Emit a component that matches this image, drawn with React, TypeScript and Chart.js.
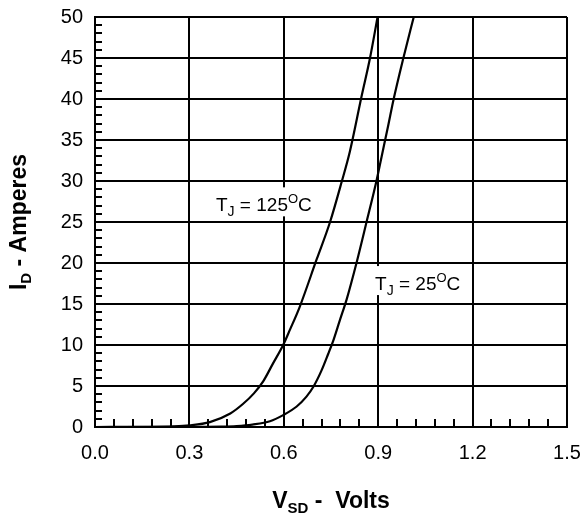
import React, { useEffect, useRef } from "react";
import { Chart, registerables } from "chart.js";

Chart.register(...registerables);

// ---- data (V_SD in volts, I_D in amperes) ----
const vd125 = [0, 0.15, 0.25, 0.3, 0.365, 0.43, 0.47, 0.505, 0.535, 0.565, 0.598, 0.62, 0.65, 0.704, 0.747, 0.784, 0.81, 0.847, 0.874, 0.898];
const id125 = [0, 0.02, 0.08, 0.2, 0.6, 1.65, 2.8, 4.1, 5.6, 7.7, 10, 11.9, 14.6, 20.4, 25, 29.9, 33.6, 40.3, 45, 50];
const vd25 = [0, 0.3, 0.4, 0.45, 0.5, 0.556, 0.598, 0.641, 0.672, 0.694, 0.72, 0.741, 0.757, 0.778, 0.8, 0.831, 0.863, 0.895, 0.911, 0.932, 0.948, 0.98, 1.013];
const id25 = [0, 0.01, 0.05, 0.12, 0.3, 0.7, 1.45, 2.5, 3.7, 4.9, 6.9, 8.9, 10.5, 13, 15.6, 20, 25, 30.1, 33, 36.8, 39.8, 45, 50];

const xTickValues = [0, 0.3, 0.6, 0.9, 1.2, 1.5];
const yTickValues = [0, 5, 10, 15, 20, 25, 30, 35, 40, 45, 50];

// annotation anchors (data units: left edge / baseline)
const label125 = { v: 0.3845, i: 26.3, temp: "125" };
const label25 = { v: 0.89, i: 16.7, temp: "25" };

const FONT = '"Liberation Sans", Arial, Helvetica, sans-serif';

type Seg = { t: string; size: number; bold?: boolean; dy?: number };

function segWidth(ctx: CanvasRenderingContext2D, segs: Seg[]) {
  let w = 0;
  for (const s of segs) {
    ctx.font = `${s.bold ? "bold " : ""}${s.size}px ${FONT}`;
    w += ctx.measureText(s.t).width;
  }
  return w;
}

function drawSegs(ctx: CanvasRenderingContext2D, segs: Seg[], x: number, y: number) {
  let cx = x;
  ctx.textBaseline = "alphabetic";
  ctx.textAlign = "left";
  for (const s of segs) {
    ctx.font = `${s.bold ? "bold " : ""}${s.size}px ${FONT}`;
    ctx.fillText(s.t, cx, y + (s.dy || 0));
    cx += ctx.measureText(s.t).width;
  }
}

function tjSegs(temp: string): Seg[] {
  return [
    { t: "T", size: 19 },
    { t: "J", size: 14, dy: 5 },
    { t: " = " + temp, size: 19 },
    { t: "O", size: 13, dy: -8 },
    { t: "C", size: 19 },
  ];
}

const decorPlugin = {
  id: "decor",
  beforeDatasetsDraw(chart: any) {
    const ctx: CanvasRenderingContext2D = chart.ctx;
    const xs = chart.scales.x;
    const ys = chart.scales.y;
    const ca = chart.chartArea;
    ctx.save();
    // minor ticks
    ctx.strokeStyle = "#000";
    ctx.lineWidth = 2;
    ctx.beginPath();
    for (let i = 1; i < 50; i++) {
      if (i % 5 === 0) continue;
      const y = Math.round(ys.getPixelForValue(i));
      ctx.moveTo(ca.left, y);
      ctx.lineTo(ca.left + 7, y);
    }
    for (let k = 1; k < 25; k++) {
      if (k % 5 === 0) continue;
      const x = Math.round(xs.getPixelForValue(k * 0.06));
      ctx.moveTo(x, ca.bottom);
      ctx.lineTo(x, ca.bottom - 8);
    }
    ctx.stroke();

    // annotations with white backgrounds
    for (const lb of [label125, label25]) {
      const segs = tjSegs(lb.temp);
      const x = xs.getPixelForValue(lb.v);
      const y = ys.getPixelForValue(lb.i);
      const w = segWidth(ctx, segs);
      ctx.fillStyle = "#fff";
      ctx.fillRect(x - 5, y - 24, w + 10, 29);
      ctx.fillStyle = "#000";
      drawSegs(ctx, segs, x, y);
    }
    ctx.restore();
  },
  afterDraw(chart: any) {
    const ctx: CanvasRenderingContext2D = chart.ctx;
    const ca = chart.chartArea;
    ctx.save();
    ctx.fillStyle = "#000";
    // x title
    const xt: Seg[] = [
      { t: "V", size: 23, bold: true },
      { t: "SD", size: 15, bold: true, dy: 5 },
      { t: " -  Volts", size: 23, bold: true },
    ];
    const wx = segWidth(ctx, xt);
    drawSegs(ctx, xt, (ca.left + ca.right) / 2 - wx / 2, 508);
    // y title
    const yt: Seg[] = [
      { t: "I", size: 23, bold: true },
      { t: "D", size: 15, bold: true, dy: 5 },
      { t: " - Amperes", size: 23, bold: true },
    ];
    const wy = segWidth(ctx, yt);
    ctx.translate(26, (ca.top + ca.bottom) / 2);
    ctx.rotate(-Math.PI / 2);
    drawSegs(ctx, yt, -wy / 2, 0);
    ctx.restore();
  },
};

export default function App() {
  const ref = useRef<HTMLCanvasElement>(null);
  useEffect(() => {
    if (!ref.current) return;
    const chart = new Chart(ref.current, {
      type: "line",
      data: {
        datasets: [
          {
            label: "TJ = 125°C",
            data: vd125.map((v, i) => ({ x: v, y: id125[i] })),
            borderColor: "#000",
            borderWidth: 2.2,
            pointRadius: 0,
            fill: false,
            cubicInterpolationMode: "monotone",
          },
          {
            label: "TJ = 25°C",
            data: vd25.map((v, i) => ({ x: v, y: id25[i] })),
            borderColor: "#000",
            borderWidth: 2.2,
            pointRadius: 0,
            fill: false,
            cubicInterpolationMode: "monotone",
          },
        ],
      },
      options: {
        responsive: false,
        animation: false,
        devicePixelRatio: 1,
        layout: { padding: { top: 17, right: 17, left: 0, bottom: 0 } },
        plugins: { legend: { display: false }, tooltip: { enabled: false } },
        scales: {
          x: {
            type: "linear",
            min: 0,
            max: 1.5,
            afterBuildTicks: (s: any) => {
              s.ticks = xTickValues.map((v) => ({ value: v }));
            },
            afterFit: (s: any) => {
              s.height = 88;
              s.paddingLeft = 0;
              s.paddingRight = 0;
            },
            grid: { color: "#000", lineWidth: 2, drawTicks: false },
            border: { color: "#000", width: 2 },
            ticks: {
              color: "#000",
              padding: 14,
              maxRotation: 0,
              font: { family: FONT, size: 20 },
              callback: (v: any) => Number(v).toFixed(1),
            },
          },
          y: {
            type: "linear",
            min: 0,
            max: 50,
            afterBuildTicks: (s: any) => {
              s.ticks = yTickValues.map((v) => ({ value: v }));
            },
            afterFit: (s: any) => {
              s.width = 95;
              s.paddingTop = 0;
              s.paddingBottom = 0;
            },
            grid: { color: "#000", lineWidth: 2, drawTicks: false },
            border: { color: "#000", width: 2 },
            ticks: {
              color: "#000",
              padding: 12,
              font: { family: FONT, size: 20 },
              callback: (v: any) => String(v),
            },
          },
        },
      } as any,
      plugins: [decorPlugin],
    });
    return () => chart.destroy();
  }, []);
  return (
    <div style={{ position: "fixed", left: 0, top: 0, width: 584, height: 515, background: "#fff" }}>
      <canvas ref={ref} width={584} height={515} />
    </div>
  );
}
